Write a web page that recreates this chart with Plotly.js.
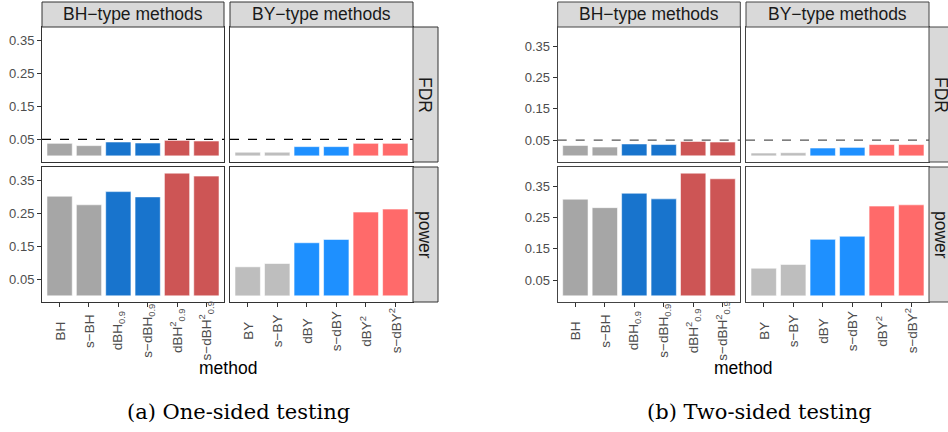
<!DOCTYPE html>
<html>
<head>
<meta charset="utf-8">
<script src="https://cdn.plot.ly/plotly-3.0.1.min.js"></script>
<style>html,body{margin:0;padding:0;background:#fff;}#chart{width:948px;height:432px;}</style>
</head>
<body>
<div id="chart"></div>
<script>
// ---- data ----
const methodsBH = ['BH','s\u2212BH','dBH<sub>0.9</sub>','s\u2212dBH<sub>0.9</sub>','dBH<sup>2</sup><sub>0.9</sub>','s\u2212dBH<sup>2</sup><sub>0.9</sub>'];
const methodsBY = ['BY','s\u2212BY','dBY','s\u2212dBY','dBY<sup>2</sup>','s\u2212dBY<sup>2</sup>'];
const colorsBH = ['#A6A6A6','#A6A6A6','#1874CD','#1874CD','#CD5555','#CD5555'];
const colorsBY = ['#BEBEBE','#BEBEBE','#1E90FF','#1E90FF','#FF6A6A','#FF6A6A'];
const facetCols = ['BH\u2212type methods','BY\u2212type methods'];
const facetRows = ['FDR','power'];
const yTicks = [0.05,0.15,0.25,0.35];
const targetFDR = 0.05;

const oneFdrBH = [0.038,0.031,0.042,0.039,0.047,0.045];
const oneFdrBY = [0.011,0.011,0.028,0.028,0.038,0.038];
const onePowBH = [0.302,0.276,0.316,0.300,0.372,0.363];
const onePowBY = [0.088,0.098,0.161,0.171,0.254,0.263];
const twoFdrBH = [0.033,0.028,0.038,0.036,0.046,0.044];
const twoFdrBY = [0.009,0.010,0.025,0.027,0.036,0.036];
const twoPowBH = [0.308,0.281,0.327,0.309,0.391,0.373];
const twoPowBY = [0.088,0.100,0.180,0.190,0.286,0.290];

const captions = ['(a) One-sided testing','(b) Two-sided testing'];
const axisTitle = 'method';

// ---- layout helpers ----
const W = 948, H = 432;
const px = v => v / W;
const py = v => 1 - v / H;

const figs = [
  {vals: [[oneFdrBH, oneFdrBY],[onePowBH, onePowBY]], cols: [[42,224],[230,413]], strip: [413,438], dash:'#000000', frame:'#333333', axisX:228, cap:239},
  {vals: [[twoFdrBH, twoFdrBY],[twoPowBH, twoPowBY]], cols: [[557.7,740.3],[746,929]], strip: [929,954], dash:'#555555', frame:'#444444', axisX:743, cap:759}
];
const rowsPx = [[27,162],[167,302]];
const stripTop = [2,27];

const traces = [];
const layout = {
  width: W, height: H,
  margin: {l:0,r:0,t:0,b:0},
  paper_bgcolor:'#ffffff', plot_bgcolor:'#ffffff',
  showlegend:false,
  font:{family:'Liberation Sans, Arial, sans-serif', color:'#4D4D4D', size:13},
  shapes: [], annotations: []
};

let idx = 0;
figs.forEach((f, fi) => {
  const allVals = f.vals.flat(2);
  const ymax = Math.max(...allVals);
  const yr = [-0.05*ymax, 1.05*ymax];
  const border = f.frame;
  for (let r = 0; r < 2; r++) {
    for (let c = 0; c < 2; c++) {
      idx++;
      const xa = 'x' + (idx === 1 ? '' : idx), ya = 'y' + (idx === 1 ? '' : idx);
      const xk = 'xaxis' + (idx === 1 ? '' : idx), yk = 'yaxis' + (idx === 1 ? '' : idx);
      const labels = c === 0 ? methodsBH : methodsBY;
      const cols = c === 0 ? colorsBH : colorsBY;
      traces.push({
        type:'bar', x: labels.map((_, i) => i), y: f.vals[r][c],
        xaxis: xa, yaxis: ya,
        marker:{color: cols, line:{color:'rgba(255,255,255,0.55)', width:1}},
        width: 0.86, hoverinfo:'skip'
      });
      layout[xk] = {
        domain:[px(f.cols[c][0]), px(f.cols[c][1])],
        anchor: ya, range:[-0.6, 5.6], fixedrange:true,
        showgrid:false, zeroline:false,
        showline:true, mirror:true, linecolor:border, linewidth:1,
        ticks: r === 1 ? 'outside' : '', ticklen:4, tickcolor:'#333333',
        tickvals: labels.map((_, i) => i), showticklabels:false
      };
      layout[yk] = {
        domain:[py(rowsPx[r][1]), py(rowsPx[r][0])],
        anchor: xa, range: yr, fixedrange:true,
        showgrid:false, zeroline:false,
        showline:true, mirror:true, linecolor:border, linewidth:1,
        tickvals: yTicks, ticktext: yTicks.map(v => v.toFixed(2)),
        ticks: c === 0 ? 'outside' : '', ticklen:4, tickcolor:'#333333',
        showticklabels: c === 0, tickfont:{size:13, color:'#4D4D4D'}
      };
      if (r === 1) {
        labels.forEach((lab, i) => {
          layout.annotations.push({xref: xa, yref:'paper', x:i, y:py(331), text:lab, textangle:-90,
            showarrow:false, xanchor:'center', yanchor:'middle', font:{size:13.5, color:'#4D4D4D'}});
        });
      }
      if (r === 0) {
        layout.shapes.push({type:'line', xref: xa + ' domain', yref: ya, x0:0, x1:1, y0:targetFDR, y1:targetFDR,
          line:{color:f.dash, width:1.2, dash:'dash'}, layer:'above'});
        // column strip
        layout.shapes.push({type:'rect', xref:'paper', yref:'paper',
          x0:px(f.cols[c][0]), x1:px(f.cols[c][1]), y0:py(stripTop[1]), y1:py(stripTop[0]),
          fillcolor:'#D9D9D9', line:{color:border, width:1}});
        layout.annotations.push({xref:'paper', yref:'paper', x:px((f.cols[c][0]+f.cols[c][1])/2), y:py((stripTop[0]+stripTop[1])/2),
          text:facetCols[c], showarrow:false, xanchor:'center', yanchor:'middle',
          font:{size:17.5, color:'#1A1A1A'}});
      }
    }
    // row strip
    layout.shapes.push({type:'rect', xref:'paper', yref:'paper',
      x0:px(f.strip[0]), x1:px(f.strip[1]), y0:py(rowsPx[r][1]), y1:py(rowsPx[r][0]),
      fillcolor:'#D9D9D9', line:{color:border, width:1}});
    layout.annotations.push({xref:'paper', yref:'paper', x:px((f.strip[0]+f.strip[1])/2), y:py((rowsPx[r][0]+rowsPx[r][1])/2),
      text:facetRows[r], textangle:90, showarrow:false, xanchor:'center', yanchor:'middle',
      font:{size:17.5, color:'#1A1A1A'}});
  }
  layout.annotations.push({xref:'paper', yref:'paper', x:px(f.axisX), y:py(368), text:axisTitle, showarrow:false,
    xanchor:'center', yanchor:'middle', font:{size:17.5, color:'#000000'}});
  layout.annotations.push({xref:'paper', yref:'paper', x:px(f.cap), y:py(412), text:captions[fi], showarrow:false,
    xanchor:'center', yanchor:'middle', font:{family:'DejaVu Serif, Liberation Serif, serif', size:21, color:'#000000'}});
});

Plotly.newPlot('chart', traces, layout, {staticPlot:true, displayModeBar:false});
</script>
</body>
</html>
